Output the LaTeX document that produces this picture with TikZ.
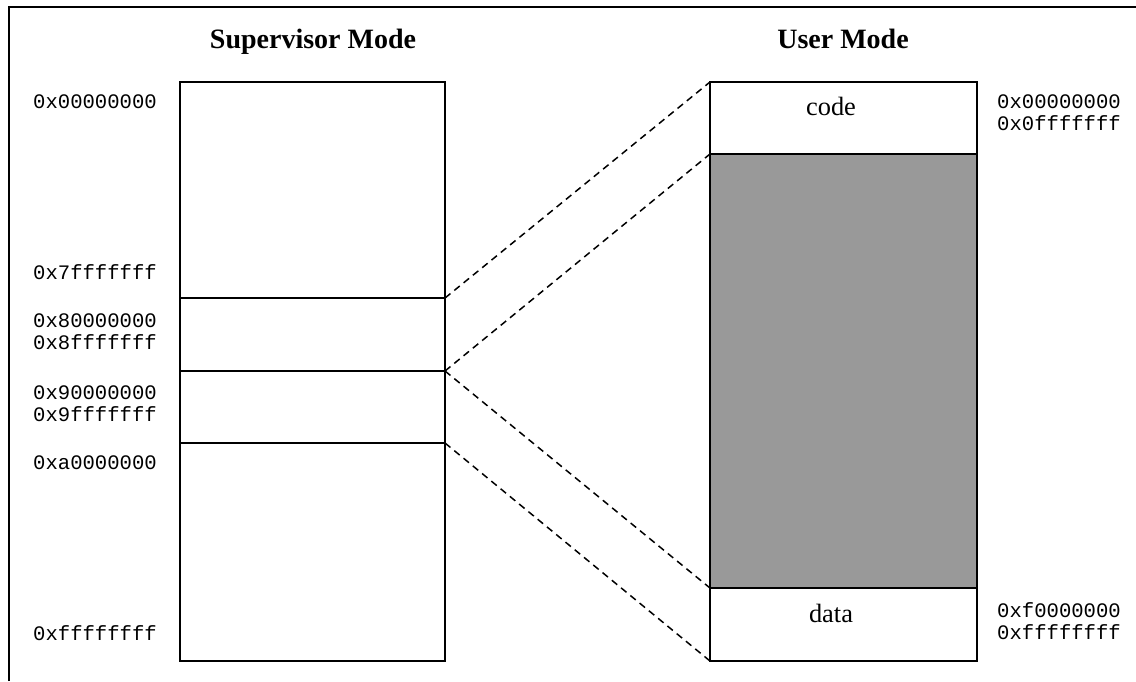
\documentclass[tikz,border=0pt]{standalone}
\usepackage{fontspec}
\setmainfont{Liberation Serif}
\setmonofont{Liberation Mono}
\tikzset{
  seg/.style={draw=black, line width=2pt, shape=rectangle, inner sep=0pt, outer sep=0pt},
  addr/.style={anchor=west, font=\fontsize{20.6}{22}\selectfont\ttfamily, align=left, inner sep=0pt},
  title/.style={anchor=base, font=\fontsize{28}{30}\selectfont\bfseries},
  part/.style={anchor=base, font=\fontsize{26.4}{28}\selectfont},
  link/.style={dash pattern=on 7pt off 5pt, line width=1.5pt},
}
\begin{document}
\begin{tikzpicture}[x=1pt, y=-1pt]
\useasboundingbox (0,0) rectangle (1136,681);
% frame
\draw[line width=2pt] (9,681) -- (9,7) -- (1136,7);

% supervisor side
\node[seg, minimum width=265pt, minimum height=216pt] (sv_1) at (312.5,190) {};
\node[seg, minimum width=265pt, minimum height=73pt] (sv_2) at (312.5,334.5) {};
\node[seg, minimum width=265pt, minimum height=72pt] (sv_3) at (312.5,407) {};
\node[seg, minimum width=265pt, minimum height=218pt] (sv_4) at (312.5,552) {};

% user side
\node[seg, minimum width=267pt, minimum height=72pt] (um_code) at (843.5,118) {};
\node[seg, fill=black!40, minimum width=267pt, minimum height=434pt] (um_free) at (843.5,371) {};
\node[seg, minimum width=267pt, minimum height=73pt] (um_data) at (843.5,624.5) {};

\node[title] (t_sv) at (313,48) {Supervisor Mode};
\node[title] (t_um) at (843,48) {User Mode};
\node[part] (l_code) at (831,115) {code};
\node[part] (l_data) at (831,622) {data};

% addresses
\node[addr] (a_0) at (33,102) {0x00000000};
\node[addr] (a_7) at (33,272) {0x7fffffff};
\node[addr] (a_8) at (33,332) {0x80000000\\0x8fffffff};
\node[addr] (a_9) at (33,404) {0x90000000\\0x9fffffff};
\node[addr] (a_a) at (33,463) {0xa0000000};
\node[addr] (a_f) at (33,633) {0xffffffff};
\node[addr] (u_0) at (997,113) {0x00000000\\0x0fffffff};
\node[addr] (u_f) at (997,621) {0xf0000000\\0xffffffff};

% mapping
\draw[link] (sv_2.north east) -- (um_code.north west);
\draw[link] (sv_3.north east) -- (um_free.north west);
\draw[link] (sv_3.north east) -- (um_data.north west);
\draw[link] (sv_4.north east) -- (um_data.south west);
\end{tikzpicture}
\end{document}
